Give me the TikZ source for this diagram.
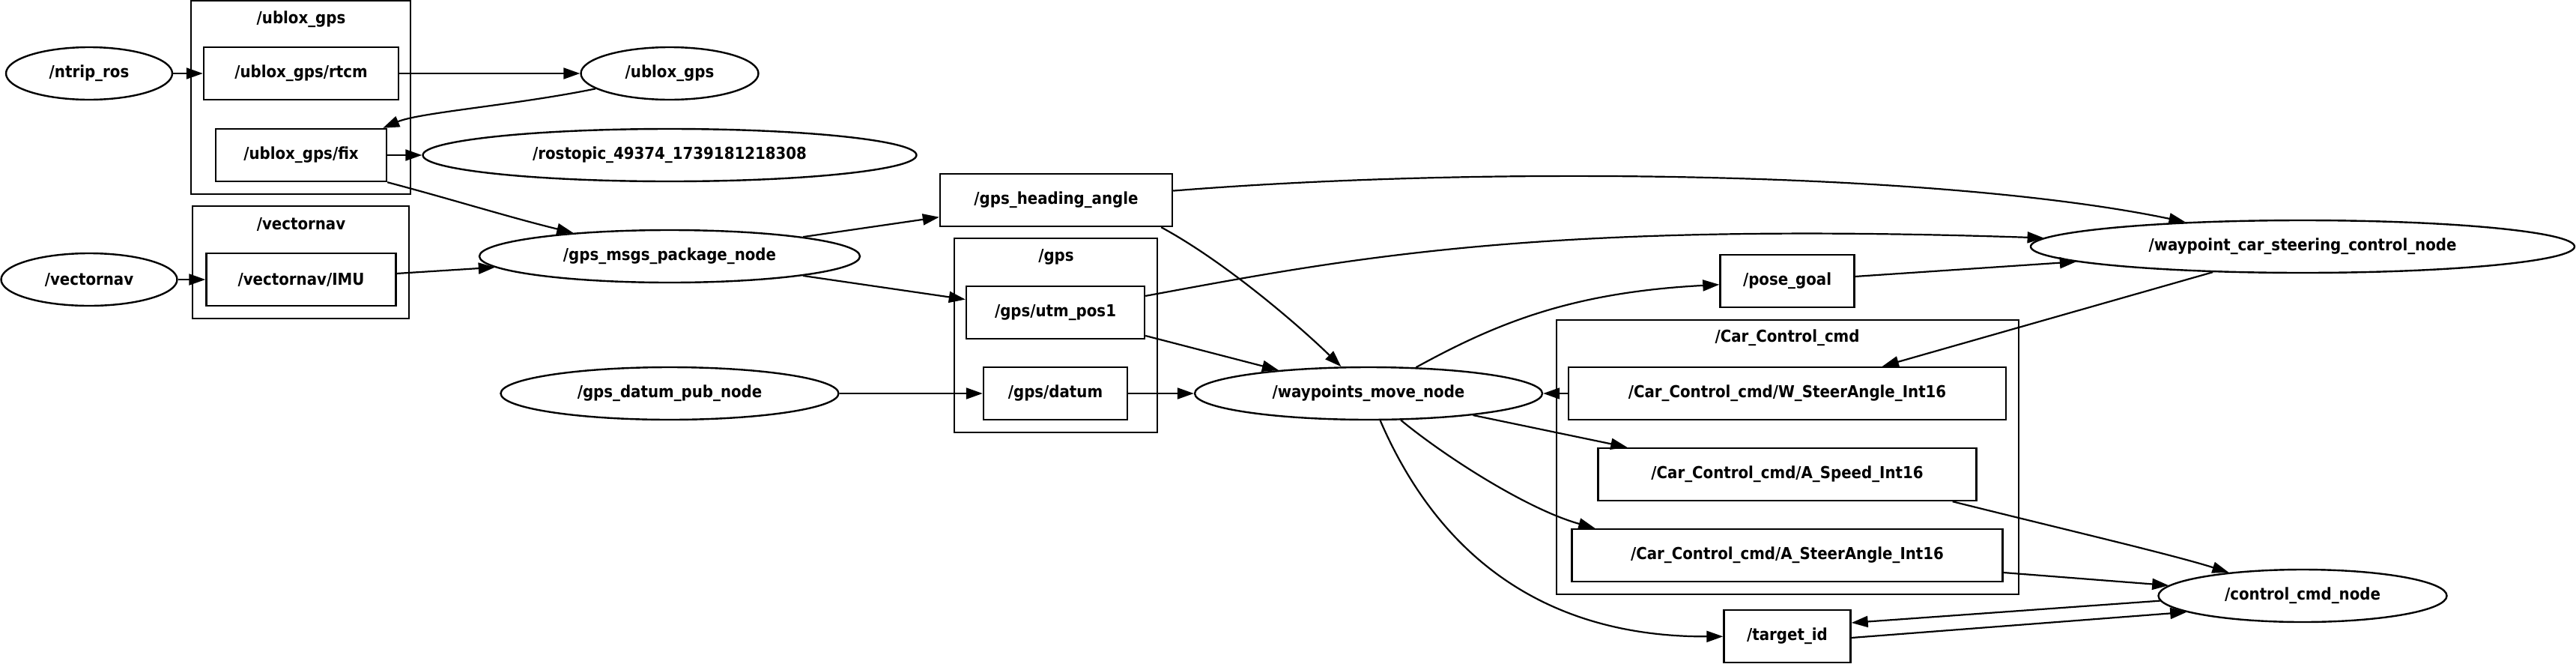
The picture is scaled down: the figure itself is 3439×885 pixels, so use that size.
\documentclass[tikz,border=0pt]{standalone}
\usepackage{fontspec}
\setmainfont{DejaVu Sans}
\newfontfamily\nodefont{DejaVu Sans Condensed}
\usetikzlibrary{shapes.geometric,arrows.meta,calc}
\begin{document}
\begin{tikzpicture}[x=0.5pt,y=-0.5pt,
  every node/.style={font=\nodefont\bfseries\fontsize{11}{13}\selectfont},
  ell/.style={draw,ellipse,inner sep=0pt,minimum height=35pt,line width=1.2pt},
  topic/.style={draw,rectangle,inner sep=0pt,minimum height=35pt,line width=1.2pt},
  cluster/.style={draw,line width=1pt},
  conn/.style={draw,line width=1.1pt,-{Triangle[length=11pt,width=7.5pt]}}]
\fill[white] (0,0) rectangle (3439,885);
\useasboundingbox (0,0) rectangle (3439,885);
% clusters
\draw[cluster] (255,1) rectangle (548,259);
\node (lblublox) at (402,26) {/ublox\_gps};
\draw[cluster] (257,275) rectangle (546,425);
\node (lblvn) at (402,299) {/vectornav};
\draw[cluster] (1274,318) rectangle (1545,577);
\node (lblgps) at (1410,343) {/gps};
\draw[cluster] (2078,427) rectangle (2695,793);
\node (lblcar) at (2386,451) {/Car\_Control\_cmd};
% nodes
\node[ell,minimum width=111pt] (ntrip) at (119,98) {/ntrip\_ros};
\node[topic,minimum width=130pt] (rtcm) at (402,98) {/ublox\_gps/rtcm};
\node[ell,minimum width=118.5pt] (ubloxnode) at (894,98) {/ublox\_gps};
\node[topic,minimum width=114pt] (fix) at (402,207) {/ublox\_gps/fix};
\node[ell,minimum width=329.5pt] (rostopic) at (894,207) {/rostopic\_49374\_1739181218308};
\node[ell,minimum width=117.5pt] (vnnode) at (119,373) {/vectornav};
\node[topic,minimum width=126.5pt] (imu) at (402,373) {/vectornav/IMU};
\node[ell,minimum width=254pt] (gpsmsgs) at (894,342) {/gps\_msgs\_package\_node};
\node[ell,minimum width=225.5pt] (datumpub) at (894,525) {/gps\_datum\_pub\_node};
\node[topic,minimum width=155pt] (heading) at (1410,267) {/gps\_heading\_angle};
\node[topic,minimum width=119pt] (utm) at (1409,417) {/gps/utm\_pos1};
\node[topic,minimum width=96pt] (datum) at (1409,525) {/gps/datum};
\node[ell,minimum width=232pt] (wmove) at (1827,525) {/waypoints\_move\_node};
\node[topic,minimum width=89.5pt] (pose) at (2386,375) {/pose\_goal};
\node[topic,minimum width=292pt] (wsteer) at (2386,525) {/Car\_Control\_cmd/W\_SteerAngle\_Int16};
\node[topic,minimum width=252.5pt] (aspeed) at (2386,633) {/Car\_Control\_cmd/A\_Speed\_Int16};
\node[topic,minimum width=287.5pt] (asteer) at (2386,741) {/Car\_Control\_cmd/A\_SteerAngle\_Int16};
\node[topic,minimum width=84.5pt] (target) at (2386,849) {/target\_id};
\node[ell,minimum width=363pt] (wcsc) at (3074,329) {/waypoint\_car\_steering\_control\_node};
\node[ell,minimum width=192.5pt] (ctrl) at (3074,795) {/control\_cmd\_node};
% edges
\draw[conn] (ntrip) -- (rtcm);
\draw[conn] (rtcm) -- (ubloxnode);
\draw[conn] (ubloxnode) .. controls (690,140) and (560,150) .. ([xshift=-3pt]fix.north east);
\draw[conn] (fix) -- (rostopic);
\draw[conn] (fix.south east) .. controls (600,265) and (680,290) .. (gpsmsgs);
\draw[conn] (vnnode) -- (imu);
\draw[conn] (imu) -- (gpsmsgs);
\draw[conn] (gpsmsgs) -- (heading);
\draw[conn] (gpsmsgs) -- (utm);
\draw[conn] (datumpub) -- (datum);
\draw[conn] (datum) -- (wmove);
\draw[conn] ([xshift=-8pt]heading.south east) .. controls (1640,352) and (1740,440) .. (wmove);
\draw[conn] (heading) .. controls (2000,220) and (2600,230) .. (wcsc);
\draw[conn] (utm) .. controls (1800,345) and (2050,295) .. (wcsc);
\draw[conn] (utm) -- (wmove);
\draw[conn] (wmove) .. controls (2000,430) and (2100,390) .. (pose);
\draw[conn] (pose) -- (wcsc);
\draw[conn] (wcsc) -- (wsteer);
\draw[conn] (wsteer) -- (wmove);
\draw[conn] (wmove) -- ([xshift=20pt]aspeed.north west);
\draw[conn] (wmove) .. controls (1930,610) and (2040,680) .. ([xshift=16pt]asteer.north west);
\draw[conn] (wmove) .. controls (1920,740) and (2060,850) .. (target);
\draw[conn] ([xshift=-16.5pt]aspeed.south east) .. controls (2750,705) and (2900,740) .. (ctrl);
\draw[conn] ([yshift=-11.5pt]asteer.east) -- (ctrl);
\draw[conn] (ctrl.182) -- ([yshift=9pt]target.east);
\draw[conn] ([yshift=-1pt]target.east) -- (ctrl.188.5);
\end{tikzpicture}
\end{document}
